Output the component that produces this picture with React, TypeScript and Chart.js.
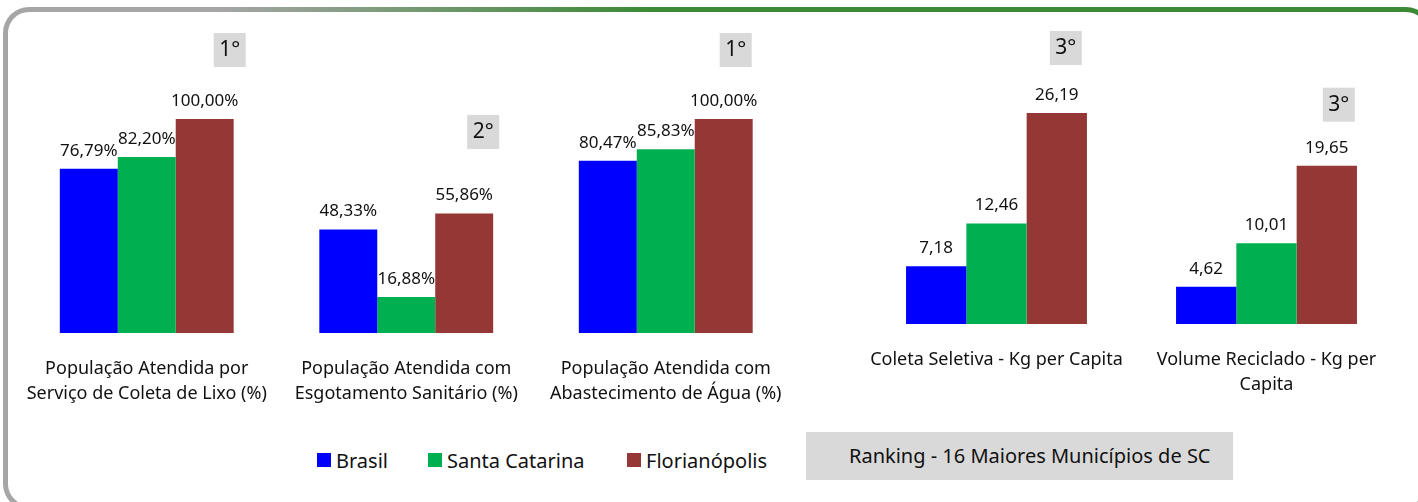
import React, { useEffect, useRef } from "react";
import { Chart, registerables } from "chart.js";
Chart.register(...registerables);

const seriesNames = ["Brasil", "Santa Catarina", "Florianópolis"];
const seriesColors = ["#0000FF", "#00B050", "#953735"];

const pctCategories = [
  ["População Atendida por", "Serviço de Coleta de Lixo (%)"],
  ["População Atendida com", "Esgotamento Sanitário (%)"],
  ["População Atendida com", "Abastecimento de Água (%)"],
];
const pctBrasil = [76.79, 48.33, 80.47];
const pctSantaCatarina = [82.2, 16.88, 85.83];
const pctFlorianopolis = [100.0, 55.86, 100.0];
const pctRanks = ["1°", "2°", "1°"];

const kgCategories = [
  ["Coleta Seletiva - Kg per Capita"],
  ["Volume Reciclado - Kg per", "Capita"],
];
const kgBrasil = [7.18, 4.62];
const kgSantaCatarina = [12.46, 10.01];
const kgFlorianopolis = [26.19, 19.65];
const kgRanks = ["3°", "3°"];

const rankingText = "Ranking - 16 Maiores Municípios de SC";

// layout (not data): badge offsets relative to the Florianópolis bar
const pctBadgeOffsets = [[25, -86], [19, -98.5], [12, -86]];
const kgBadgeOffsets = [[9, -82], [12, -78]];

const FONT = "'Noto Sans', 'Open Sans', sans-serif";
const TEXT = "#111111";

function makePlugin(suffix: string, ranks: string[], badgeOffsets: number[][], cats: string[][]) {
  return {
    id: "custom-labels",
    afterDraw(chart: any) {
      const ctx = chart.ctx;
      ctx.save();
      ctx.fillStyle = TEXT;
      ctx.textAlign = "center";
      ctx.textBaseline = "middle";
      ctx.font = `17px ${FONT}`;
      chart.data.datasets.forEach((ds: any, i: number) => {
        const meta = chart.getDatasetMeta(i);
        meta.data.forEach((el: any, j: number) => {
          const v = ds.data[j] as number;
          const t = v.toFixed(2).replace(".", ",") + suffix;
          ctx.fillText(t, el.x, el.y - 18);
        });
      });
      const xs = chart.scales.x;
      const bottom = chart.chartArea.bottom;
      ctx.font = `18px ${FONT}`;
      cats.forEach((lines, j) => {
        const x = xs.getPixelForValue(j);
        lines.forEach((ln, k) => {
          ctx.fillText(ln, x, bottom + 36 + k * 25);
        });
      });
      const redMeta = chart.getDatasetMeta(2);
      ctx.font = `21px ${FONT}`;
      ranks.forEach((r, j) => {
        const el = redMeta.data[j];
        const [dx, dy] = badgeOffsets[j];
        const cx = el.x + dx;
        const top = el.y + dy;
        ctx.fillStyle = "#D9D9D9";
        ctx.fillRect(cx - 16, top, 32, 34);
        ctx.fillStyle = TEXT;
        ctx.fillText(r, cx, top + 17);
      });
      ctx.restore();
    },
  };
}

function makeConfig(cats: string[][], data: number[][], yMax: number, padding: any, plugin: any) {
  return {
    type: "bar" as const,
    data: {
      labels: cats.map((c) => c.join(" ")),
      datasets: data.map((d, i) => ({
        label: seriesNames[i],
        data: d,
        backgroundColor: seriesColors[i],
        borderWidth: 0,
        categoryPercentage: 0.67,
        barPercentage: 1.0,
      })),
    },
    options: {
      responsive: false,
      animation: false as const,
      events: [],
      layout: { padding },
      plugins: { legend: { display: false }, tooltip: { enabled: false } },
      scales: {
        x: { display: false },
        y: { display: false, min: 0, max: yMax },
      },
    },
    plugins: [plugin],
  };
}

export default function App() {
  const c1 = useRef<HTMLCanvasElement>(null);
  const c2 = useRef<HTMLCanvasElement>(null);
  useEffect(() => {
    const ch1 = new Chart(
      c1.current!,
      makeConfig(
        pctCategories,
        [pctBrasil, pctSantaCatarina, pctFlorianopolis],
        100,
        { left: 17, right: 34.5, top: 119, bottom: 97 },
        makePlugin("%", pctRanks, pctBadgeOffsets, pctCategories)
      ) as any
    );
    const ch2 = new Chart(
      c2.current!,
      makeConfig(
        kgCategories,
        [kgBrasil, kgSantaCatarina, kgFlorianopolis],
        30,
        { left: 31.5, right: 16.5, top: 82.3, bottom: 106 },
        makePlugin("", kgRanks, kgBadgeOffsets, kgCategories)
      ) as any
    );
    return () => {
      ch1.destroy();
      ch2.destroy();
    };
  }, []);

  const legendX = [317, 428, 627];

  return (
    <div
      style={{
        position: "fixed",
        left: 0,
        top: 0,
        width: 1418,
        height: 502,
        overflow: "hidden",
        background: "#ffffff",
        fontFamily: FONT,
        color: TEXT,
      }}
    >
      <div
        style={{
          position: "absolute",
          left: 3,
          top: 7,
          width: 1429,
          height: 503,
          borderRadius: 26,
          background: "linear-gradient(to right, #A6A6A6 0%, #A6A6A6 15%, #3C8A36 45%, #3C8A36 100%)",
        }}
      >
        <div
          style={{
            position: "absolute",
            left: 5,
            top: 5,
            right: 5,
            bottom: 5,
            borderRadius: 21,
            background: "#ffffff",
          }}
        />
      </div>
      <canvas
        ref={c1}
        width={830}
        height={430}
        style={{ position: "absolute", left: 0, top: 0, width: 830, height: 430 }}
      />
      <canvas
        ref={c2}
        width={588}
        height={430}
        style={{ position: "absolute", left: 830, top: 0, width: 588, height: 430 }}
      />
      {seriesNames.map((n, i) => (
        <div
          key={n}
          style={{
            position: "absolute",
            left: legendX[i],
            top: 447,
            height: 26,
            display: "flex",
            alignItems: "center",
            fontSize: 20,
            whiteSpace: "nowrap",
          }}
        >
          <span
            style={{ display: "inline-block", width: 14, height: 14, background: seriesColors[i], marginRight: 5 }}
          />
          <span>{n}</span>
        </div>
      ))}
      <div
        style={{
          position: "absolute",
          left: 806,
          top: 432,
          width: 427,
          height: 48,
          background: "#D9D9D9",
          fontSize: 20,
          lineHeight: "48px",
          paddingLeft: 43,
          boxSizing: "border-box",
          whiteSpace: "nowrap",
        }}
      >
        {rankingText}
      </div>
    </div>
  );
}
